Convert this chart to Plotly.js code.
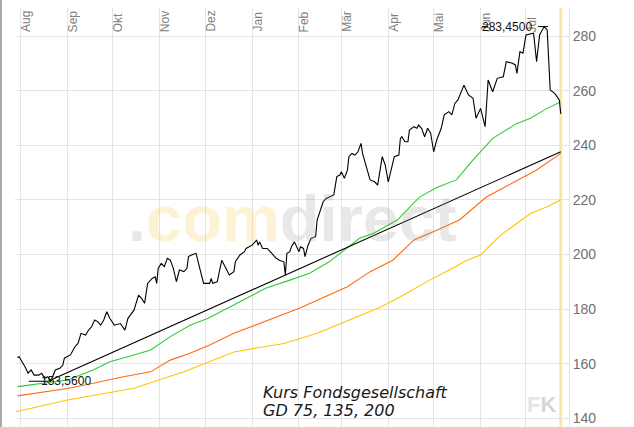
<!DOCTYPE html>
<html>
<head>
<meta charset="utf-8">
<script src="https://cdn.plot.ly/plotly-3.0.1.min.js"></script>
<style>
html,body{margin:0;padding:0;background:#fff;}
#chart{width:634px;height:427px;}
</style>
</head>
<body>
<div id="chart"></div>
<script>
// ---- data ----
var priceDates = ['2020-07-30','2020-07-31','2020-08-02','2020-08-04','2020-08-06','2020-08-08','2020-08-10','2020-08-13','2020-08-15','2020-08-17','2020-08-19','2020-08-21','2020-08-24','2020-08-27','2020-08-29','2020-08-30','2020-09-03','2020-09-06','2020-09-08','2020-09-10','2020-09-13','2020-09-15','2020-09-17','2020-09-19','2020-09-21','2020-09-23','2020-09-25','2020-09-27','2020-09-29','2020-10-02','2020-10-06','2020-10-09','2020-10-11','2020-10-15','2020-10-18','2020-10-20','2020-10-22','2020-10-24','2020-10-27','2020-10-29','2020-10-30','2020-10-31','2020-11-02','2020-11-04','2020-11-06','2020-11-08','2020-11-10','2020-11-12','2020-11-14','2020-11-17','2020-11-19','2020-11-20','2020-11-22','2020-11-25','2020-11-28','2020-11-30','2020-12-04','2020-12-05','2020-12-06','2020-12-09','2020-12-12','2020-12-14','2020-12-17','2020-12-20','2020-12-21','2020-12-24','2020-12-27','2020-12-28','2021-01-01','2021-01-03','2021-01-04','2021-01-05','2021-01-06','2021-01-08','2021-01-11','2021-01-13','2021-01-15','2021-01-17','2021-01-19','2021-01-22','2021-01-23','2021-01-24','2021-01-26','2021-01-27','2021-01-29','2021-01-30','2021-02-01','2021-02-02','2021-02-04','2021-02-05','2021-02-07','2021-02-09','2021-02-12','2021-02-13','2021-02-15','2021-02-17','2021-02-19','2021-02-24','2021-02-26','2021-02-28','2021-03-01','2021-03-03','2021-03-05','2021-03-06','2021-03-08','2021-03-10','2021-03-12','2021-03-14','2021-03-15','2021-03-18','2021-03-20','2021-03-23','2021-03-25','2021-03-28','2021-03-30','2021-04-01','2021-04-03','2021-04-05','2021-04-08','2021-04-09','2021-04-10','2021-04-12','2021-04-14','2021-04-15','2021-04-18','2021-04-20','2021-04-21','2021-04-23','2021-04-25','2021-04-27','2021-04-29','2021-05-01','2021-05-03','2021-05-06','2021-05-08','2021-05-11','2021-05-13','2021-05-15','2021-05-17','2021-05-21','2021-05-24','2021-05-27','2021-05-29','2021-06-01','2021-06-04','2021-06-06','2021-06-09','2021-06-12','2021-06-16','2021-06-18','2021-06-22','2021-06-24','2021-06-25','2021-06-27','2021-06-29','2021-07-01','2021-07-06','2021-07-08','2021-07-10','2021-07-13','2021-07-15','2021-07-17','2021-07-20','2021-07-23','2021-07-24'];
var priceValues = [162.2,162.6,160.7,158.9,156.5,157.7,155.8,155.8,156.5,154.6,155.2,153.56,157.7,158.3,159.5,162.0,163.2,166.2,167.4,171.1,170.5,172.3,173.5,176.0,175.4,174.1,176.0,179.0,176.6,174.1,174.7,172.3,176.6,179.6,185.1,183.9,182.1,189.4,191.2,191.8,189.4,194.9,196.7,195.5,198.6,197.9,194.9,190.0,194.3,193.7,194.9,199.2,199.8,200.4,193.7,189.4,189.4,191.2,189.4,190.0,197.9,195.5,192.5,193.7,197.3,199.8,201.0,202.2,203.4,204.6,205.3,203.4,204.6,202.2,202.2,201.0,199.8,198.6,197.9,197.3,192.5,200.4,201.0,202.8,204.6,203.4,201.0,202.8,202.2,199.2,203.4,205.9,206.5,212.6,216.3,219.3,220.5,221.8,228.5,229.1,230.3,227.9,230.9,235.8,237.0,236.4,237.6,240.7,237.0,230.9,227.3,226.6,225.4,235.8,232.7,226.6,231.5,235.8,236.4,242.5,243.1,241.3,241.3,245.6,246.8,246.2,247.4,246.2,243.1,246.2,244.4,237.6,241.9,246.2,251.1,252.3,251.1,255.3,256.6,262.0,258.4,257.2,249.9,253.5,246.8,263.9,259.6,264.5,265.1,270.6,270.0,269.4,266.3,274.3,273.7,280.4,281.0,270.6,280.4,283.45,282.2,260.2,259.0,256.6,251.5];

var gd75Dates = ['2020-07-30','2020-08-14','2020-09-01','2020-09-18','2020-09-29','2020-10-15','2020-10-26','2020-11-08','2020-11-21','2020-12-03','2020-12-22','2021-01-10','2021-01-26','2021-02-08','2021-02-21','2021-03-05','2021-03-13','2021-03-22','2021-04-07','2021-04-18','2021-04-22','2021-05-03','2021-05-16','2021-05-27','2021-06-09','2021-06-25','2021-07-04','2021-07-15','2021-07-24'];
var gd75Values = [151.6,152.8,154.0,157.7,160.7,163.2,165.0,169.9,174.1,176.6,182.0,187.6,190.6,193.1,197.3,202.6,205.9,207.7,212.6,219.0,221.1,224.5,227.3,234.6,242.5,248.0,249.9,253.5,255.9];

var gd135Dates = ['2020-07-30','2020-09-01','2020-09-18','2020-10-08','2020-10-26','2020-11-08','2020-11-21','2020-12-04','2020-12-20','2021-02-02','2021-03-05','2021-03-20','2021-04-04','2021-04-18','2021-05-03','2021-05-18','2021-06-05','2021-06-23','2021-07-08','2021-07-24'];
var gd135Values = [148.2,150.9,152.8,155.2,157.0,161.3,163.8,166.8,171.1,180.5,188.2,193.7,197.9,205.3,208.9,212.6,221.1,226.6,230.9,237.0];

var gd200Dates = ['2020-07-29','2020-09-01','2020-10-15','2020-11-17','2020-12-20','2021-01-22','2021-02-13','2021-03-07','2021-03-26','2021-04-09','2021-04-28','2021-05-12','2021-05-23','2021-06-01','2021-06-14','2021-07-04','2021-07-15','2021-07-24'];
var gd200Values = [142.4,146.7,151.0,157.0,164.3,167.4,171.1,176.0,180.5,184.5,190.5,194.5,197.9,199.8,207.0,215.0,217.5,220.0];

var trendDates = ['2020-08-21','2021-07-24'];
var trendValues = [154.0,237.6];

var monthStarts = ['2020-08-01','2020-09-01','2020-10-01','2020-11-01','2020-12-01','2021-01-01','2021-02-01','2021-03-01','2021-04-01','2021-05-01','2021-06-01','2021-07-01'];
var monthLabels = ['Aug','Sep','Okt','Nov','Dez','Jan','Feb','Mär','Apr','Mai','Jun','Jul'];
var yTicks = [140,160,180,200,220,240,260,280];
var captionLines = ['Kurs Fondsgesellschaft','GD 75, 135, 200'];

// ---- derived ----
var DAY = 86400000;
function fmtVal(v){ return v.toFixed(4).replace('.', ','); }
var iMax = 0, iMin = 0;
for (var i = 1; i < priceValues.length; i++) {
  if (priceValues[i] > priceValues[iMax]) iMax = i;
  if (priceValues[i] < priceValues[iMin]) iMin = i;
}
function shiftDate(d, days){ return new Date(new Date(d + 'T00:00:00Z').getTime() + days*DAY).toISOString().slice(0,19).replace('T',' '); }
var lastDate = priceDates[priceDates.length-1];

var traces = [
  {x: gd200Dates, y: gd200Values, mode:'lines', line:{color:'#ffc400', width:1.1}, hoverinfo:'skip'},
  {x: gd135Dates, y: gd135Values, mode:'lines', line:{color:'#ff6a10', width:1.1}, hoverinfo:'skip'},
  {x: gd75Dates, y: gd75Values, mode:'lines', line:{color:'#2ccc36', width:1.1}, hoverinfo:'skip'},
  {x: trendDates, y: trendValues, mode:'lines', line:{color:'#000', width:1.1}, hoverinfo:'skip'},
  {x: priceDates, y: priceValues, mode:'lines', line:{color:'#000', width:1.1}, hoverinfo:'skip'}
];

var annotations = [];
monthStarts.forEach(function(d, k){
  annotations.push({x:d, xref:'x', y:0.938, yref:'paper', text:monthLabels[k], textangle:-90, xshift:-3,
    showarrow:false, xanchor:'left', yanchor:'bottom', font:{family:'Liberation Sans, Arial', size:12, color:'#808080'}});
});
// watermark
annotations.push({x:0.5, y:0.497, xref:'paper', yref:'paper', showarrow:false,
  text:'<span style="color:rgba(140,145,140,0.22)">.</span><span style="color:rgba(248,205,90,0.26)">com</span><span style="color:rgba(140,145,140,0.21)">direct</span>',
  font:{family:'Liberation Sans, Arial', size:65, weight:'bold'}});
// max / min labels
annotations.push({x:priceDates[iMax], y:priceValues[iMax], xref:'x', yref:'y', showarrow:false,
  xanchor:'right', yanchor:'middle', xshift:-10, text:fmtVal(priceValues[iMax]),
  font:{family:'Liberation Sans, Arial', size:12, color:'#111'}});
annotations.push({x:priceDates[iMin], y:priceValues[iMin], xref:'x', yref:'y', showarrow:false,
  xanchor:'left', yanchor:'middle', xshift:-12, text:fmtVal(priceValues[iMin]),
  font:{family:'Liberation Sans, Arial', size:12, color:'#111'}});
// caption
captionLines.forEach(function(t, k){
  annotations.push({x:0.4435, y:(k===0?0.0825:0.0402), xref:'paper', yref:'paper', showarrow:false,
    xanchor:'left', yanchor:'middle', text:'<i>'+t+'</i>',
    font:{family:'DejaVu Sans', size:16, color:'#1a1a1a', weight:200}});
});
// logo
annotations.push({x:0.981, y:0.0545, xref:'paper', yref:'paper', showarrow:false, xanchor:'right', yanchor:'middle',
  text:'<span style="color:#e4e4e4">F</span>K', font:{family:'Liberation Sans, Arial', size:22, color:'#d6d6d6', weight:'bold'}});

var shapes = [
  // white caption box
  {type:'rect', xref:'paper', yref:'paper', x0:0.4224, x1:0.9765, y0:0.0257, y1:0.1284, layer:'between',
   fillcolor:'#fff', line:{width:0}},
  // current date marker
  {type:'line', xref:'x', yref:'paper', x0:lastDate, x1:lastDate, y0:0, y1:1, layer:'between',
   line:{color:'#fbe6aa', width:3}},
  // extreme markers
  {type:'line', xref:'x', yref:'y', x0:shiftDate(priceDates[iMax],-4), x1:shiftDate(priceDates[iMax],2.6),
   y0:priceValues[iMax], y1:priceValues[iMax], line:{color:'#000', width:1}},
  {type:'line', xref:'x', yref:'y', x0:shiftDate(priceDates[iMax],-41), x1:shiftDate(priceDates[iMax],-37),
   y0:priceValues[iMax], y1:priceValues[iMax], line:{color:'#000', width:1}},
  {type:'line', xref:'x', yref:'y', x0:shiftDate(priceDates[iMin],-14.5), x1:priceDates[iMin],
   y0:priceValues[iMin], y1:priceValues[iMin], line:{color:'#000', width:1}},
  // left frame
  {type:'line', xref:'paper', yref:'paper', x0:-0.0253, x1:-0.0253, y0:-0.02, y1:1.02, line:{color:'#a8a8a8', width:2}}
];

var layout = {
  width:634, height:427,
  margin:{l:15, r:65, t:8, b:0, pad:0},
  paper_bgcolor:'#fff', plot_bgcolor:'#fff',
  showlegend:false,
  xaxis:{type:'date', range:['2020-07-28 09:00','2021-07-29 10:00'], tick0:'2020-08-01', dtick:'M1',
    showgrid:true, gridcolor:'#e4e4e4', gridwidth:1, showticklabels:false, ticks:'', zeroline:false, showline:false, fixedrange:true},
  yaxis:{side:'right', range:[136.8, 290.26], tickvals:yTicks, ticktext:yTicks.map(String),
    showgrid:true, gridcolor:'#e4e4e4', gridwidth:1, zeroline:false, ticks:'', showline:true, linecolor:'#e4e4e4', linewidth:1,
    tickfont:{family:'Liberation Sans, Arial', size:14, color:'#707070'}, fixedrange:true},
  annotations:annotations,
  shapes:shapes
};

Plotly.newPlot('chart', traces, layout, {staticPlot:true, displayModeBar:false});
</script>
</body>
</html>
